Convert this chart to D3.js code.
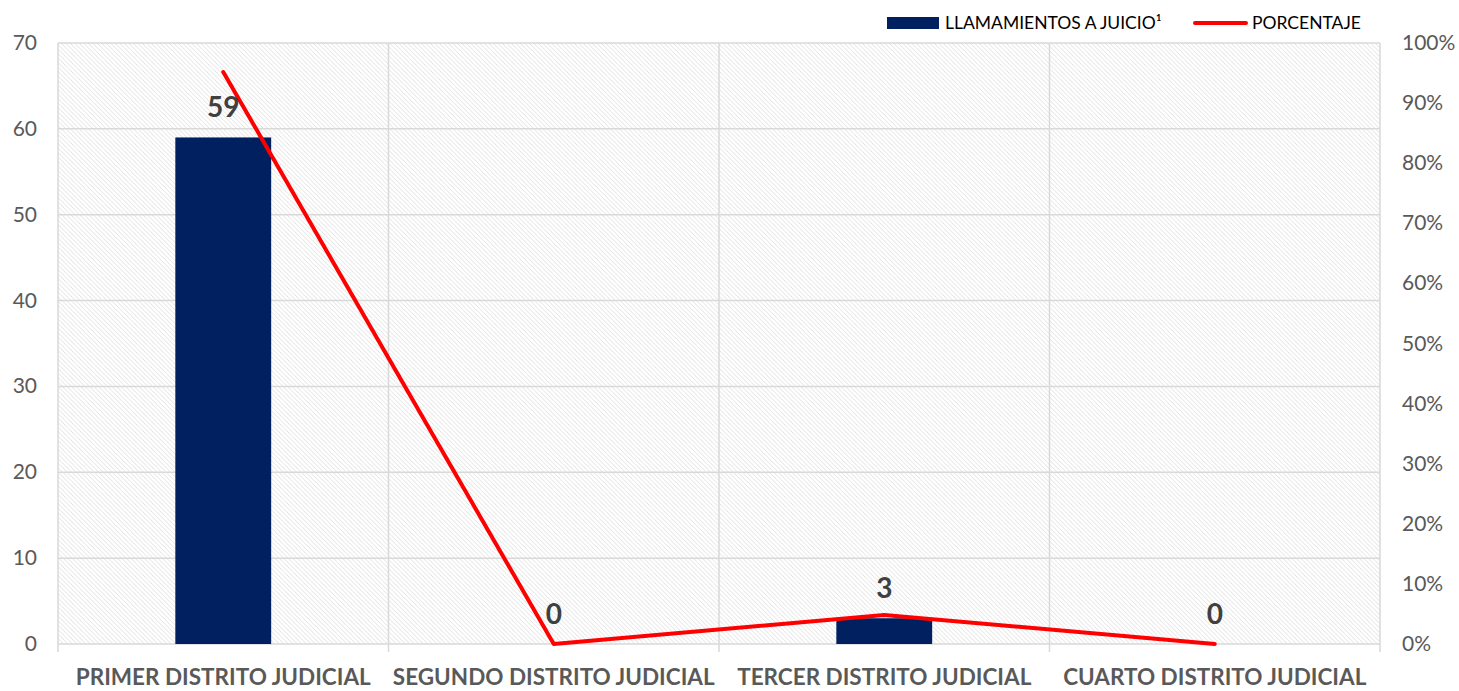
<!DOCTYPE html>
<html>
<head>
<meta charset="utf-8">
<script src="https://cdn.jsdelivr.net/npm/d3@7"></script>
<style>
  body { margin: 0; background: #fff; }
  text { font-family: Lato, "Open Sans", sans-serif; }
</style>
</head>
<body>
<script>
var categories = ["PRIMER DISTRITO JUDICIAL", "SEGUNDO DISTRITO JUDICIAL", "TERCER DISTRITO JUDICIAL", "CUARTO DISTRITO JUDICIAL"];
var llamamientos = [59, 0, 3, 0];
var porcentaje = [0.9516, 0, 0.0484, 0];
var leftTicks = [0, 10, 20, 30, 40, 50, 60, 70];
var rightTicks = [0, 0.1, 0.2, 0.3, 0.4, 0.5, 0.6, 0.7, 0.8, 0.9, 1];

var w = 1459, h = 691;
var plotL = 58, plotR = 1380, plotT = 43, plotB = 644;

var svg = d3.select("body").append("svg")
    .attr("width", w)
    .attr("height", h);

// hatch pattern for plot background
var pat = svg.append("defs").append("pattern")
    .attr("id", "hatch")
    .attr("patternUnits", "userSpaceOnUse")
    .attr("width", 4.5)
    .attr("height", 4.5);
pat.append("rect").attr("width", 4.5).attr("height", 4.5).attr("fill", "#fff");
pat.append("path")
    .attr("d", "M-1,-1 L5.5,5.5 M-1,3.5 L1,5.5 M3.5,-1 L5.5,1")
    .attr("stroke", "#dadada")
    .attr("stroke-width", 0.8);

var x = d3.scaleBand().domain(categories).range([plotL, plotR]);
var yL = d3.scaleLinear().domain([0, 70]).range([plotB, plotT]);
var yR = d3.scaleLinear().domain([0, 1]).range([plotB, plotT]);

svg.append("rect")
    .attr("x", plotL).attr("y", plotT)
    .attr("width", plotR - plotL).attr("height", plotB - plotT)
    .attr("fill", "url(#hatch)");

// horizontal gridlines
svg.selectAll(".hgrid")
    .data(leftTicks)
    .enter().append("line")
    .attr("x1", plotL).attr("x2", plotR)
    .attr("y1", function(d) { return yL(d); })
    .attr("y2", function(d) { return yL(d); })
    .attr("stroke", "#d9d9d9")
    .attr("stroke-width", 1.5);

// vertical gridlines at category boundaries
var bounds = categories.map(function(c) { return x(c); }).concat([plotR]);
svg.selectAll(".vgrid")
    .data(bounds)
    .enter().append("line")
    .attr("x1", function(d) { return d; })
    .attr("x2", function(d) { return d; })
    .attr("y1", plotT)
    .attr("y2", plotB + 8)
    .attr("stroke", "#d9d9d9")
    .attr("stroke-width", 1.5);

// left axis labels
svg.selectAll(".lt")
    .data(leftTicks)
    .enter().append("text")
    .attr("x", 37)
    .attr("y", function(d) { return yL(d) + 7; })
    .attr("text-anchor", "end")
    .attr("font-size", 21)
    .attr("fill", "#595959")
    .text(function(d) { return d; });

// right axis labels
svg.selectAll(".rt")
    .data(rightTicks)
    .enter().append("text")
    .attr("x", 1402)
    .attr("y", function(d) { return yR(d) + 7; })
    .attr("font-size", 21)
    .attr("fill", "#595959")
    .text(function(d) { return Math.round(d * 100) + "%"; });

// category labels
svg.selectAll(".cat")
    .data(categories)
    .enter().append("text")
    .attr("x", function(d) { return x(d) + x.bandwidth() / 2; })
    .attr("y", 685)
    .attr("text-anchor", "middle")
    .attr("font-size", 22.5)
    .attr("font-weight", "bold")
    .attr("fill", "#595959")
    .text(function(d) { return d; });

// bars
var bw = x.bandwidth() * 0.29;
svg.selectAll(".bar")
    .data(llamamientos)
    .enter().append("rect")
    .attr("x", function(d, i) { return x(categories[i]) + x.bandwidth() / 2 - bw / 2; })
    .attr("y", function(d) { return yL(d); })
    .attr("width", bw)
    .attr("height", function(d) { return plotB - yL(d); })
    .attr("fill", "#002060");

// percentage line
var line = d3.line()
    .x(function(d, i) { return x(categories[i]) + x.bandwidth() / 2; })
    .y(function(d) { return yR(d); });
svg.append("path")
    .datum(porcentaje)
    .attr("d", line)
    .attr("fill", "none")
    .attr("stroke", "#ff0000")
    .attr("stroke-width", 4)
    .attr("stroke-linecap", "round")
    .attr("stroke-linejoin", "round");

// data labels
svg.selectAll(".val")
    .data(llamamientos)
    .enter().append("text")
    .attr("x", function(d, i) { return x(categories[i]) + x.bandwidth() / 2; })
    .attr("y", function(d) { return yL(d) - 20; })
    .attr("text-anchor", "middle")
    .attr("font-size", 28)
    .attr("font-weight", "bold")
    .attr("fill", "#404040")
    .text(function(d) { return d; });

// legend
var lg = svg.append("g");
lg.append("rect").attr("x", 887).attr("y", 17).attr("width", 52).attr("height", 12).attr("fill", "#002060");
lg.append("text").attr("x", 945).attr("y", 29).attr("font-size", 17.5).attr("fill", "#000").text("LLAMAMIENTOS A JUICIO\u00b9");
lg.append("line").attr("x1", 1195).attr("x2", 1246).attr("y1", 23).attr("y2", 23)
    .attr("stroke", "#ff0000").attr("stroke-width", 4).attr("stroke-linecap", "round");
lg.append("text").attr("x", 1252).attr("y", 29).attr("font-size", 17.5).attr("fill", "#000").text("PORCENTAJE");
</script>
</body>
</html>
